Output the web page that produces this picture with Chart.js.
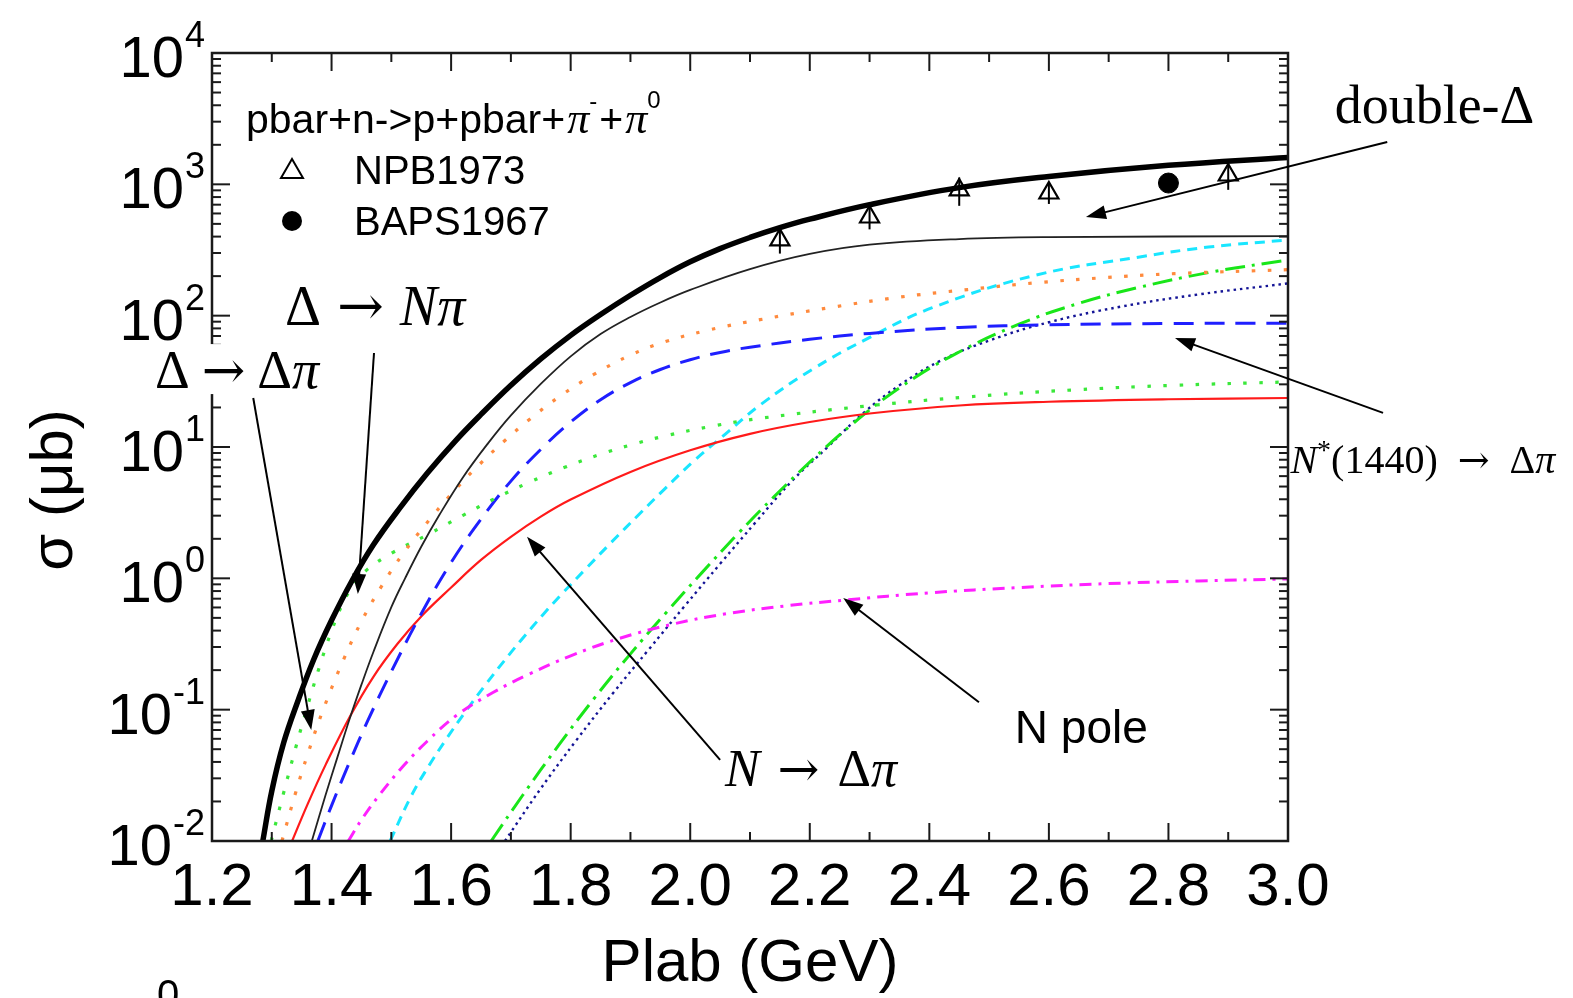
<!DOCTYPE html>
<html lang="en">
<head>
<meta charset="UTF-8">
<title>pbar+n cross section</title>
<script src="https://cdn.jsdelivr.net/npm/chart.js"></script>
<style>
  html, body { margin: 0; padding: 0; background: #fff; }
  #chart-container { position: relative; width: 1573px; height: 998px; }
</style>
</head>
<body>
<div id="chart-container"><canvas id="sigmaChart"></canvas></div>
<script>
// axis ticks
const xTickLabels = ['1.2', '1.4', '1.6', '1.8', '2.0', '2.2', '2.4', '2.6', '2.8', '3.0'];
const yTickExponents = [-2, -1, 0, 1, 2, 3, 4];

// data points (Plab in GeV, sigma in microbarn)
const npbPlab  = [2.15, 2.30, 2.45, 2.60, 2.90];
const npbSigma = [377, 564, 906, 859, 1178];
const npbErr   = [80, 110, 220, 150, 270];
const bapsPlab  = [2.80];
const bapsSigma = [1023];
const bapsErr   = [60];

// model curves
const totalP = [1.285, 1.30, 1.32, 1.344, 1.37, 1.40, 1.434, 1.47, 1.515, 1.56, 1.607, 1.65, 1.70, 1.75, 1.80, 1.85, 1.90, 1.95, 2.0, 2.05, 2.1, 2.15, 2.2, 2.3, 2.45, 2.6, 2.8, 3.0];
const totalS = [0.01, 0.024, 0.0562, 0.1175, 0.24, 0.479, 0.955, 1.8, 3.47, 6.31, 11.1, 17.7, 29.5, 46.8, 70.8, 102, 143, 195, 257, 324, 394, 468, 543, 700, 944, 1148, 1396, 1603];

const doubleDeltaP = [1.367, 1.39, 1.41, 1.431, 1.45, 1.47, 1.50, 1.523, 1.55, 1.58, 1.62, 1.662, 1.70, 1.75, 1.80, 1.85, 1.90, 1.95, 2.0, 2.1, 2.2, 2.3, 2.45, 2.6, 3.0];
const doubleDeltaS = [0.01, 0.0224, 0.0437, 0.0871, 0.155, 0.275, 0.603, 1.0, 1.74, 3.02, 5.89, 10.7, 17.4, 30.2, 49, 72.4, 97.7, 126, 157, 226, 295, 347, 383, 396, 403];

const deltaNpiP = [1.317, 1.34, 1.36, 1.386, 1.42, 1.451, 1.485, 1.52, 1.568, 1.61, 1.647, 1.69, 1.731, 1.78, 1.838, 1.90, 1.957, 2.03, 2.117, 2.233, 2.348, 2.464, 2.579, 2.695, 2.81, 3.0];
const deltaNpiS = [0.01, 0.0234, 0.0457, 0.1, 0.24, 0.479, 0.891, 1.55, 2.95, 4.9, 7.33, 11.2, 16.2, 24, 35.5, 50.1, 63.1, 77.6, 93.3, 115, 138, 158, 178, 195, 209, 224];

const deltaDeltaPiP = [1.299, 1.32, 1.34, 1.36, 1.38, 1.40, 1.42, 1.44, 1.46, 1.50, 1.56, 1.62, 1.67, 1.73, 1.79, 1.85, 1.90, 1.96, 2.04, 2.12, 2.29, 2.46, 2.64, 2.81, 3.0];
const deltaDeltaPiS = [0.01, 0.0234, 0.0513, 0.107, 0.214, 0.398, 0.661, 0.933, 1.17, 1.55, 2.14, 3.02, 3.98, 5.37, 7.0, 8.81, 10.35, 12.2, 14.5, 16.6, 20.4, 24, 27.2, 29.5, 31.3];

const nstarP = [1.377, 1.40, 1.43, 1.46, 1.50, 1.55, 1.60, 1.65, 1.70, 1.754, 1.80, 1.85, 1.90, 1.95, 2.0, 2.05, 2.1, 2.2, 2.3, 2.45, 2.6, 2.8, 3.0];
const nstarS = [0.01, 0.0186, 0.0398, 0.0813, 0.195, 0.537, 1.32, 2.82, 5.5, 10, 15.5, 22.9, 30.9, 38.9, 46.2, 52.5, 57.5, 66.1, 73.3, 81.3, 85.1, 87.1, 87.5];

const nDeltaPiP = [1.334, 1.36, 1.39, 1.431, 1.47, 1.51, 1.55, 1.60, 1.65, 1.70, 1.75, 1.80, 1.90, 2.0, 2.1, 2.2, 2.3, 2.45, 2.6, 2.8, 3.0];
const nDeltaPiS = [0.01, 0.0191, 0.038, 0.0891, 0.178, 0.316, 0.513, 0.851, 1.38, 2.07, 2.95, 3.98, 6.46, 9.44, 12.6, 15.5, 18.0, 20.7, 22.1, 23.1, 23.6];

const nPoleP = [1.428, 1.45, 1.48, 1.52, 1.56, 1.61, 1.67, 1.73, 1.80, 1.88, 1.97, 2.06, 2.16, 2.26, 2.40, 2.55, 2.70, 2.85, 3.0];
const nPoleS = [0.01, 0.0145, 0.0224, 0.0372, 0.0575, 0.0912, 0.135, 0.186, 0.257, 0.347, 0.447, 0.537, 0.617, 0.684, 0.776, 0.851, 0.912, 0.955, 0.989];

const cyanP = [1.498, 1.533, 1.563, 1.592, 1.622, 1.659, 1.689, 1.717, 1.754, 1.784, 1.826, 1.868, 1.915, 1.957, 2.005, 2.052, 2.12, 2.204, 2.29, 2.405, 2.579, 2.752, 2.867, 3.0];
const cyanS = [0.01, 0.0219, 0.0375, 0.0598, 0.0938, 0.158, 0.236, 0.338, 0.531, 0.75, 1.19, 1.88, 3.09, 4.78, 7.76, 11.8, 21.4, 38.9, 64.6, 115, 204, 280, 333, 377];

const dashDotP = [1.667, 1.72, 1.78, 1.84, 1.90, 1.96, 2.02, 2.08, 2.14, 2.20, 2.27, 2.35, 2.44, 2.55, 2.65, 2.75, 2.87, 3.0];
const dashDotS = [0.01, 0.0224, 0.0537, 0.123, 0.266, 0.55, 1.11, 2.19, 4.17, 7.67, 14.8, 28.2, 50.1, 86.1, 124, 164, 214, 266];

const navyP = [1.69, 1.75, 1.81, 1.87, 1.93, 1.99, 2.05, 2.11, 2.17, 2.23, 2.29, 2.35, 2.42, 2.50, 2.60, 2.72, 2.85, 3.0];
const navyS = [0.01, 0.0251, 0.0589, 0.132, 0.285, 0.61, 1.29, 2.69, 5.5, 10.0, 18.2, 29.5, 45.7, 64.6, 89.1, 117, 145, 176];

const SANS = '"Liberation Sans", Arial, sans-serif';
const SERIF = '"Liberation Serif", "Times New Roman", serif';
const ARROWF = '"DejaVu Serif", serif';

function pts(xs, ys) {
    return xs.map((x, i) => ({ x: x, y: ys[i] }));
}

function curve(label, xs, ys, color, width, dash) {
    return {
        label: label, data: pts(xs, ys), showLine: true,
        borderColor: color, borderWidth: width, borderDash: dash,
        pointRadius: 0, pointHoverRadius: 0, fill: false,
        tension: 0.4, clip: 0
    };
}

// annotation arrows, anchored in data coordinates: tail x, tail y, tip x, tip y
const arrows = [
    [3.166, 2100, 2.662, 564],    // double-Delta
    [3.159, 18.2, 2.811, 67.6],   // N*(1440)
    [1.471, 52, 1.444, 0.76],     // Delta -> N pi
    [1.269, 23.6, 1.366, 0.070],  // Delta -> Delta pi
    [2.050, 0.0414, 1.727, 2.07], // N -> Delta pi
    [2.483, 0.114, 2.256, 0.708]  // N pole
];

function drawParts(ctx, parts, x0, y0) {
    let cx = x0;
    parts.forEach(p => {
        if (typeof p === 'number') { cx += p; return; }
        ctx.font = p[1];
        ctx.fillText(p[0], cx, y0 + (p[2] || 0));
        cx += ctx.measureText(p[0]).width;
    });
}

function arrowLine(ctx, x1, y1, x2, y2) {
    const ang = Math.atan2(y2 - y1, x2 - x1);
    const hl = 20, hw = 7;
    ctx.beginPath();
    ctx.moveTo(x1, y1);
    ctx.lineTo(x2 - Math.cos(ang) * hl * 0.8, y2 - Math.sin(ang) * hl * 0.8);
    ctx.stroke();
    ctx.beginPath();
    ctx.moveTo(x2, y2);
    ctx.lineTo(x2 - Math.cos(ang) * hl + Math.sin(ang) * hw, y2 - Math.sin(ang) * hl - Math.cos(ang) * hw);
    ctx.lineTo(x2 - Math.cos(ang) * hl - Math.sin(ang) * hw, y2 - Math.sin(ang) * hl + Math.cos(ang) * hw);
    ctx.closePath();
    ctx.fill();
}

const decor = {
    id: 'decor',
    afterDatasetsDraw(chart) {
        const { ctx, scales: { x, y } } = chart;
        ctx.save();
        ctx.strokeStyle = '#000';
        ctx.lineWidth = 2;
        const bars = (ps, ss, es) => ps.forEach((p, i) => {
            const px = x.getPixelForValue(p);
            ctx.beginPath();
            ctx.moveTo(px, y.getPixelForValue(ss[i] - es[i]));
            ctx.lineTo(px, y.getPixelForValue(ss[i] + es[i]));
            ctx.stroke();
        });
        bars(npbPlab, npbSigma, npbErr);
        bars(bapsPlab, bapsSigma, bapsErr);
        ctx.restore();
    },
    afterDraw(chart) {
        const { ctx, chartArea: a, scales: { x, y } } = chart;
        ctx.save();
        ctx.strokeStyle = '#1a1a1a';
        ctx.fillStyle = '#000';
        ctx.lineWidth = 2.5;
        ctx.strokeRect(a.left, a.top, a.right - a.left, a.bottom - a.top);

        ctx.lineWidth = 2;
        const tick = (x1, y1, x2, y2) => { ctx.beginPath(); ctx.moveTo(x1, y1); ctx.lineTo(x2, y2); ctx.stroke(); };
        for (let i = 0; i <= 18; i++) {
            const px = x.getPixelForValue(1.2 + i * 0.1);
            const len = i % 2 === 0 ? 18 : 9;
            tick(px, a.bottom, px, a.bottom - len);
            tick(px, a.top, px, a.top + len);
        }
        yTickExponents.forEach(e => {
            for (let k = 1; k <= 9; k++) {
                const py = y.getPixelForValue(k * Math.pow(10, e));
                const len = k === 1 ? 18 : 9;
                tick(a.left, py, a.left + len, py);
                tick(a.right, py, a.right - len, py);
                if (e === yTickExponents[yTickExponents.length - 1]) break;
            }
        });

        // tick labels
        ctx.textBaseline = 'alphabetic';
        ctx.textAlign = 'center';
        ctx.font = '60px ' + SANS;
        xTickLabels.forEach(t => ctx.fillText(t, x.getPixelForValue(parseFloat(t)), a.bottom + 64));
        ctx.textAlign = 'right';
        yTickExponents.forEach(e => {
            const py = y.getPixelForValue(Math.pow(10, e));
            const ex = String(e);
            ctx.font = '36px ' + SANS;
            const ew = ctx.measureText(ex).width;
            ctx.fillText(ex, a.left - 7, py - 6);
            ctx.font = '58px ' + SANS;
            ctx.fillText('10', a.left - 8 - ew, py + 24);
        });

        // axis titles
        ctx.textAlign = 'center';
        ctx.font = '60px ' + SANS;
        ctx.fillText('Plab (GeV)', (a.left + a.right) / 2, 981);
        ctx.save();
        ctx.translate(72, 490);
        ctx.rotate(-Math.PI / 2);
        ctx.fillText('σ (μb)', 0, 0);
        ctx.restore();
        ctx.font = '40px ' + SANS;
        ctx.textBaseline = 'top';
        ctx.fillText('0', 168, 977);
        ctx.textBaseline = 'alphabetic';

        // legend
        ctx.textAlign = 'left';
        drawParts(ctx, [
            ['pbar+n->p+pbar+', '41px ' + SANS],
            2, ['π', 'italic 44px ' + SERIF],
            ['-', '24px ' + SANS, -24],
            2, ['+', '41px ' + SANS],
            2, ['π', 'italic 44px ' + SERIF],
            ['0', '24px ' + SANS, -25]
        ], a.left + 34, a.top + 80);
        ctx.lineWidth = 2;
        ctx.strokeStyle = '#000';
        const tx = a.left + 80, ty = a.top + 117;
        ctx.beginPath();
        ctx.moveTo(tx, ty - 11);
        ctx.lineTo(tx + 11, ty + 8);
        ctx.lineTo(tx - 11, ty + 8);
        ctx.closePath();
        ctx.stroke();
        ctx.beginPath();
        ctx.arc(tx, a.top + 168, 10, 0, Math.PI * 2);
        ctx.fill();
        ctx.font = '40px ' + SANS;
        ctx.fillText('NPB1973', a.left + 142, a.top + 131);
        ctx.fillText('BAPS1967', a.left + 142, a.top + 182);

        // arrows
        ctx.lineWidth = 2;
        arrows.forEach(r => arrowLine(ctx, x.getPixelForValue(r[0]), y.getPixelForValue(r[1]),
                                           x.getPixelForValue(r[2]), y.getPixelForValue(r[3])));

        // labels
        const at = (px, v) => [x.getPixelForValue(px), y.getPixelForValue(v)];
        const up = s => s + 'px ' + SERIF;
        const it = s => 'italic ' + s + 'px ' + SERIF;
        const ar = s => s + 'px ' + ARROWF;
        let p = at(3.078, 2931);
        drawParts(ctx, [['double-', up(54)], ['Δ', up(54)]], p[0], p[1]);
        p = at(1.322, 84.9);
        drawParts(ctx, [['Δ', up(56)], 16, ['→', ar(56)], 16, ['N', it(56)], ['π', it(56)]], p[0], p[1]);
        p = at(1.1046, 28.1);
        ctx.fillStyle = '#fff';
        ctx.fillRect(p[0] - 4, p[1] - 44, 182, 50);
        ctx.fillStyle = '#000';
        drawParts(ctx, [['Δ', up(54)], 12, ['→', ar(52)], 12, ['Δ', up(54)], ['π', it(54)]], p[0], p[1]);
        p = at(3.004, 6.34);
        drawParts(ctx, [['N', it(40)], ['*', up(28), -14], ['(1440)', up(40)], 20, ['→', ar(38)], 20, ['Δ', up(40)], ['π', it(40)]], p[0], p[1]);
        p = at(2.058, 0.0262);
        drawParts(ctx, [['N', it(52)], 18, ['→', ar(50)], 18, ['Δ', up(52)], ['π', it(52)]], p[0], p[1]);
        p = at(2.543, 0.0557);
        drawParts(ctx, [['N pole', '46px ' + SANS]], p[0], p[1]);
        ctx.restore();
    }
};

const ctx = document.getElementById('sigmaChart').getContext('2d');
const sigmaChart = new Chart(ctx, {
    type: 'scatter',
    data: {
        datasets: [
            { label: 'NPB1973', data: pts(npbPlab, npbSigma), pointStyle: 'triangle', pointRadius: 11,
              borderColor: '#000', backgroundColor: 'rgba(255,255,255,0)', borderWidth: 2.2 },
            { label: 'BAPS1967', data: pts(bapsPlab, bapsSigma), pointStyle: 'circle', pointRadius: 10,
              borderColor: '#000', backgroundColor: '#000' },
            curve('total', totalP, totalS, '#000', 5.5, []),
            curve('double-Δ', doubleDeltaP, doubleDeltaS, '#222', 1.8, []),
            curve('Δ→Nπ', deltaNpiP, deltaNpiS, '#ff8a3d', 3.2, [3.5, 12.5]),
            curve('Δ→Δπ', deltaDeltaPiP, deltaDeltaPiS, '#3be83b', 3.2, [3.5, 12.5]),
            curve('N*(1440)→Δπ', nstarP, nstarS, '#1f1fff', 3, [20, 11]),
            curve('N→Δπ', nDeltaPiP, nDeltaPiS, '#ff1a1a', 2.2, []),
            curve('N pole', nPoleP, nPoleS, '#ff20ff', 3, [12, 7, 3, 7]),
            curve('cyan', cyanP, cyanS, '#19e6ff', 3, [10, 7]),
            curve('dash-dot', dashDotP, dashDotS, '#19e619', 3, [20, 7, 3, 7]),
            curve('navy', navyP, navyS, '#141496', 2.4, [2.5, 4])
        ]
    },
    options: {
        responsive: true,
        maintainAspectRatio: false,
        animation: false,
        events: [],
        layout: { padding: { left: 212, top: 53, right: 285, bottom: 157 } },
        plugins: { legend: { display: false }, tooltip: { enabled: false } },
        scales: {
            x: { type: 'linear', min: 1.2, max: 3.0, display: false },
            y: { type: 'logarithmic', min: 0.01, max: 10000, display: false }
        }
    },
    plugins: [decor]
});
</script>
</body>
</html>
